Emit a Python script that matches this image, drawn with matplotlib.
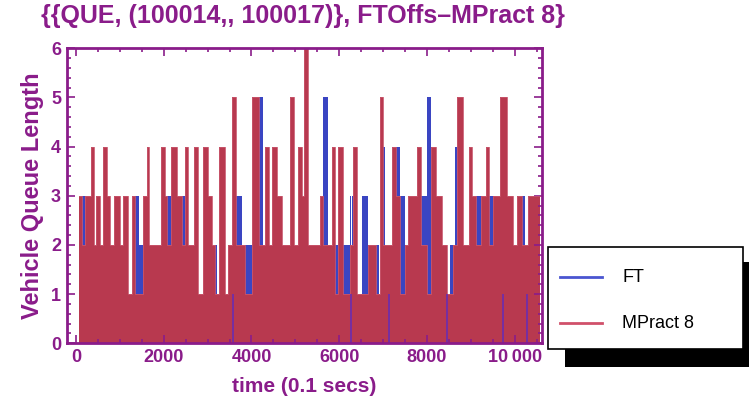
import matplotlib
matplotlib.use('Agg')
import matplotlib.pyplot as plt
from matplotlib.patches import Rectangle
from matplotlib.lines import Line2D
from matplotlib.ticker import MultipleLocator, FixedLocator, FixedFormatter
import numpy as np

# Queue length step series: change times (0.1 s) and the value held from that time on
mp_times = [60, 130, 205, 335, 410, 455, 547, 622, 713, 775, 866, 1002, 1077, 1191, 1269,
            1344, 1533, 1611, 1670, 1929, 2027, 2066, 2157, 2308, 2408, 2483, 2558, 2688,
            2786, 2900, 3014, 3091, 3166, 3264, 3394, 3469, 3547, 3645, 3850, 4002, 4176,
            4305, 4403, 4472, 4586, 4686, 4875, 4966, 5064, 5141, 5194, 5292, 5558, 5634,
            5825, 5900, 5975, 6089, 6242, 6317, 6408, 6659, 6835, 6925, 7000, 7192, 7290,
            7381, 7495, 7570, 7775, 7852, 7989, 8080, 8201, 8331, 8445, 8581, 8686, 8830,
            8959, 9036, 9127, 9241, 9340, 9415, 9506, 9659, 9811, 9962, 10053, 10153, 10296]
mp_vals = [3, 2, 3, 4, 2, 3, 2, 4, 3, 2, 3, 2, 3, 1, 3,
           1, 3, 4, 2, 4, 3, 2, 4, 3, 2, 4, 2, 4,
           1, 4, 3, 2, 1, 4, 1, 2, 5, 2, 1, 5, 2,
           4, 2, 4, 3, 2, 5, 2, 4, 3, 6, 2, 3, 2,
           4, 1, 4, 1, 2, 4, 1, 2, 1, 5, 2, 4, 3,
           1, 2, 3, 4, 2, 1, 4, 3, 2, 1, 2, 5, 2,
           4, 3, 2, 3, 4, 2, 3, 5, 3, 2, 3, 2, 3]

ft_times = [60, 130, 205, 1344, 1442, 1533, 2066, 2157, 2408, 2483, 3166, 3219, 3570, 3600,
            3645, 3775, 3850, 4002, 4176, 4253, 5634, 5748, 5900, 5975, 6089, 6242, 6260,
            6285, 6317, 6508, 6659, 6835, 6900, 7000, 7040, 7130, 7150, 7290, 7381, 7495,
            7852, 7989, 8080, 8445, 8470, 8520, 8581, 8640, 8686, 9127, 9241, 9415, 9506,
            9580, 9659, 9730, 9750, 10153, 10228, 10270, 10290]
ft_vals = [1, 3, 1, 3, 2, 1, 3, 1, 3, 1, 2, 1, 0, 1,
           3, 1, 2, 1, 5, 1, 5, 1, 2, 1, 2, 3, 0,
           3, 1, 3, 1, 2, 1, 4, 1, 0, 1, 4, 3, 1,
           3, 5, 1, 0, 1, 2, 1, 4, 1, 3, 1, 3, 1,
           3, 1, 0, 1, 3, 1, 0, 1]
t_end = 10570

xtick_vals = [0, 2000, 4000, 6000, 8000, 10000]
xtick_labels = ['0', '2000', '4000', '6000', '8000', '10\u2009000']
series_names = ['FT', 'MPract 8']

purple = '#8a1c8a'
blue = '#3a45c2'
red = '#b8394f'
font = ['Liberation Sans', 'DejaVu Sans']


def steps(times, vals):
    t = np.array(times + [t_end], dtype=float)
    v = np.array(vals + [vals[-1]], dtype=float)
    return t, v


fig = plt.figure(figsize=(7.49, 4.15), dpi=100)
ax = fig.add_axes([0.089, 0.1728, 0.634, 0.711])

ft_t, ft_v = steps(ft_times, ft_vals)
mp_t, mp_v = steps(mp_times, mp_vals)
ax.fill_between(ft_t, ft_v, step='post', color=blue, linewidth=0)
ax.fill_between(mp_t, mp_v, step='post', color=red, linewidth=0)
ax.step(mp_t, mp_v, where='post', color='#c8566c', lw=0.6)

# blue drops to zero show through the red fill as thin purple strokes
ft_arr = np.array(ft_vals)
dips = np.array(ft_times)[ft_arr == 0]
ax.vlines(dips, 0, 1, color='#6a2cb0', lw=1.2)

ax.set_xlim(-212, 10609)
ax.set_ylim(0, 6)

for s in ax.spines.values():
    s.set_color(purple)
    s.set_linewidth(2)

ax.xaxis.set_major_locator(FixedLocator(xtick_vals))
ax.xaxis.set_major_formatter(FixedFormatter(xtick_labels))
ax.xaxis.set_minor_locator(MultipleLocator(500))
ax.yaxis.set_major_locator(MultipleLocator(1))
ax.yaxis.set_minor_locator(MultipleLocator(0.2))
ax.tick_params(which='both', direction='in', top=True, right=True, color=purple, width=1.2)
ax.tick_params(which='major', length=6, labelsize=13, labelcolor=purple, pad=4)
ax.tick_params(which='minor', length=3)
for lab in ax.get_xticklabels() + ax.get_yticklabels():
    lab.set_fontweight('bold')
    lab.set_family(font)

ax.set_xlabel('time (0.1 secs)', color=purple, fontsize=15, fontweight='bold', family=font, labelpad=8)
ax.set_ylabel('Vehicle Queue Length', color=purple, fontsize=17, fontweight='bold', family=font, labelpad=5)
fig.text(0.405, 0.962, '{{QUE, (100014,, 100017)}, FTOffs\u2013MPract 8}', color=purple,
         fontsize=18, fontweight='bold', family=font, ha='center', va='center')

# legend box with a hard black drop shadow
W, H = 749.0, 415.0
fig.patches.append(Rectangle((565 / W, 1 - 367 / H), 184 / W, 105 / H, transform=fig.transFigure,
                             facecolor='black', edgecolor='none', zorder=5))
fig.patches.append(Rectangle((548 / W, 1 - 349 / H), 195 / W, 102 / H, transform=fig.transFigure,
                             facecolor='white', edgecolor='black', lw=1.2, zorder=6))
for i, (name, c) in enumerate(zip(series_names, ['#4a55d0', '#d0506a'])):
    y = 1 - (277 + 46 * i) / H
    fig.add_artist(Line2D([560 / W, 602 / W], [y, y], transform=fig.transFigure, color=c, lw=2, zorder=7))
    fig.text(622 / W, y, name, fontsize=13, family=font, color='black', va='center', zorder=7)

fig.savefig('out.png', dpi=100)
